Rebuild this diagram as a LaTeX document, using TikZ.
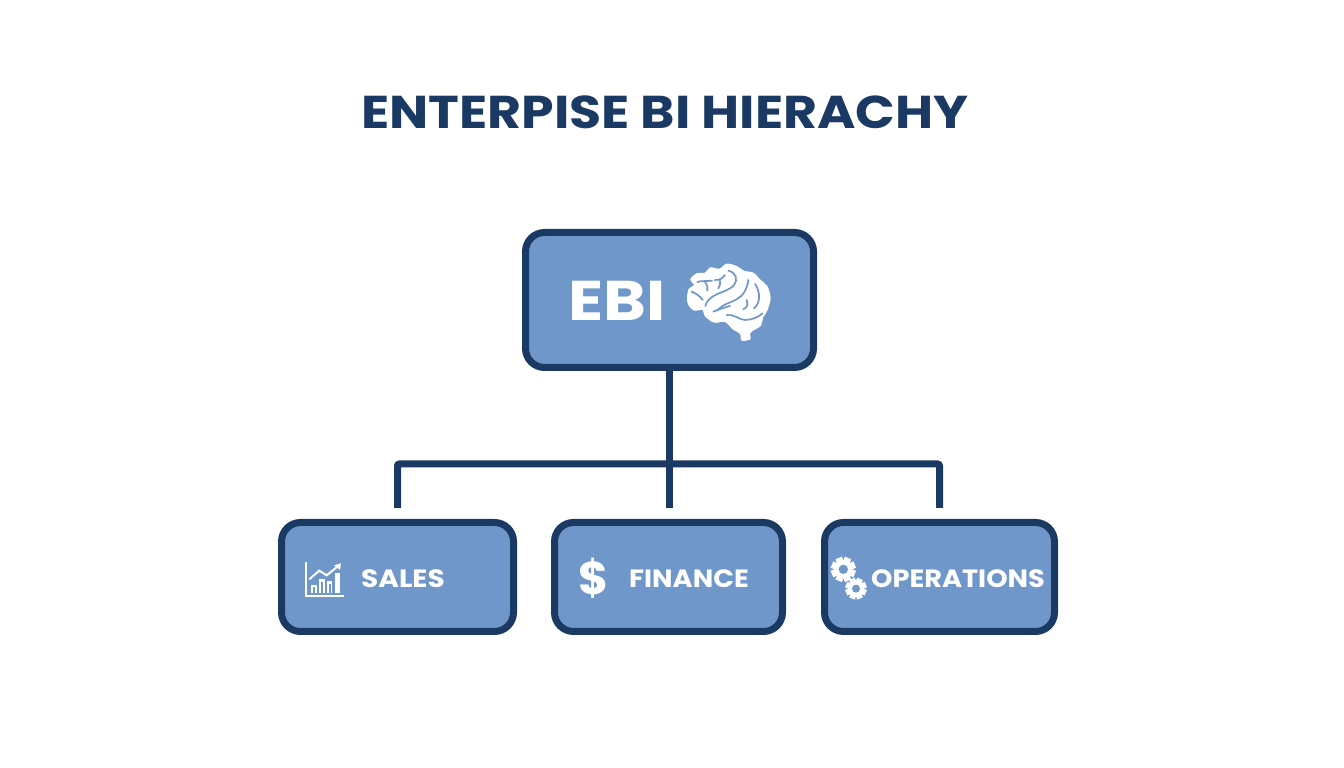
\documentclass[tikz,border=0pt]{standalone}
\usepackage{fontspec}
\setmainfont{Poppins}[BoldFont={Poppins Bold}]
\usetikzlibrary{calc}
\definecolor{navy}{HTML}{1B3A63}
\definecolor{boxfill}{HTML}{6F97CA}
\newcommand{\wideb}[2]{\fontsize{#1}{#1}\bfseries\addfontfeature{FakeStretch=#2}\selectfont}
\tikzset{
  x=1pt,y=1pt,
  box/.style={draw=navy,fill=boxfill,line width=7pt,rounded corners=19pt,inner sep=0pt},
  link/.style={draw=navy,line width=7pt,rounded corners=2pt},
  lbl/.style={text=white,inner sep=0pt,anchor=center},
  vein/.style={draw=boxfill,line width=1.7pt,line cap=round,line join=round},
  icon/.style={draw=white,line width=2pt,line join=miter},
}
\begin{document}
\begin{tikzpicture}
\useasboundingbox (0,0) rectangle (1344,768);
\fill[white] (0,0) rectangle (1344,768);
\node[text=navy,font=\wideb{46}{1.133},inner sep=0pt] (title) at (665,656) {ENTERPISE BI HIERACHY};
\node[box,minimum width=288pt,minimum height=135pt] (ebi) at (669.5,468) {};
\node[box,minimum width=232pt,minimum height=109pt] (sales) at (397.5,191) {};
\node[box,minimum width=228pt,minimum height=109pt] (finance) at (668.5,191) {};
\node[box,minimum width=230pt,minimum height=109pt] (ops) at (939.5,191) {};
\coordinate (busl) at ($(sales.north)+(0,11)$);
\coordinate (busm) at ($(finance.north)+(0,11)$);
\coordinate (busr) at ($(ops.north)+(0,11)$);
\coordinate (busltop) at ($(busl)+(0,44)$);
\coordinate (busrtop) at ($(busr)+(0,44)$);
\draw[link] (busl) -- (busltop) -- (busrtop) -- (busr);
\draw[link,rounded corners=0pt] (ebi.south) -- (ebi.south |- busm);
\node[lbl,font=\wideb{56}{1.16}] (ebit) at (617,467) {EBI};
\node[lbl,font=\wideb{25}{1.12}] (salest) at (403,189) {SALES};
\node[lbl,font=\wideb{25}{1.09}] (fint) at (689,189) {FINANCE};
\node[lbl,font=\wideb{25}{1.09}] (opst) at (958,189) {OPERATIONS};
\node[lbl,font=\wideb{46}{1.0}] (dollar) at (594,190) {\$};
% brain
\begin{scope}[shift={(510,548)},x=0.3333pt,y=-0.3333pt]
\fill[white] plot[smooth cycle,tension=0.55] coordinates {
 (531,232)(537,205)(552,196)(541,178)(560,160)(585,158)(600,142)(628,146)(650,131)(680,138)(702,152)(730,158)(750,178)(772,198)(782,235)(772,272)(760,292)(752,318)(726,334)(720,345)(722,358)(695,362)(690,342)(668,328)(645,306)(612,308)(584,288)(578,270)(552,272)(535,255)};
\draw[vein] (562,186)..controls (575,182) and (590,184)..(606,182);
\draw[vein] (585,186)..controls (592,195) and (594,202)..(592,212);
\draw[vein] (615,180)..controls (630,182) and (640,172)..(645,165);
\draw[vein] (630,182)..controls (632,190) and (630,198)..(625,205);
\draw[vein] (655,152)..controls (680,158) and (684,180)..(672,196)..controls (660,208) and (640,215)..(622,222)..controls (605,230) and (590,240)..(586,258);
\draw[vein] (715,180)..controls (712,205) and (700,228)..(680,238)..controls (665,248) and (640,250)..(622,272);
\draw[vein] (610,275)..controls (625,268) and (645,262)..(660,258);
\draw[vein] (735,192)..controls (752,215) and (752,250)..(732,265);
\draw[vein] (545,215)..controls (560,222) and (570,228)..(578,240);
\draw[vein] (650,285)..controls (672,282) and (690,300)..(705,300)..controls (725,300) and (745,292)..(758,280);
\draw[vein] (710,240)..controls (715,255) and (712,262)..(700,268);
\end{scope}
% chart
\begin{scope}[shift={(270,258)},x=0.3333pt,y=-0.3333pt]
\draw[icon] (108,157) -- (108,258) -- (221,258);
\fill[white] (123,250) rectangle (140,224);
\fill[white] (147,250) rectangle (164,208);
\fill[white] (172,250) rectangle (187,212);
\fill[white] (196,250) rectangle (210,190);
\fill[boxfill] (128,248) rectangle (135,232);
\fill[boxfill] (152,248) rectangle (159,216);
\fill[boxfill] (176,248) rectangle (183,222);
\draw[icon] (118,208) -- (148,182) -- (170,196) -- (206,167);
\fill[white] (213,160) -- (210,180) -- (192,166) -- cycle;
\end{scope}
% gears
\begin{scope}[shift={(815,258)},x=0.3333pt,y=-0.3333pt]
\foreach \cx/\cy/\ro/\ri/\rh in {85/178/37/27/14,123/236/32/23/12}{
  \foreach \a in {0,45,...,315}{
    \fill[white,rotate around={\a+22.5:(\cx,\cy)}] (\cx-0.28*\ro,\cy) rectangle (\cx+0.28*\ro,\cy-\ro);
  }
  \fill[white] (\cx,\cy) circle[radius=\ri];
  \fill[boxfill] (\cx,\cy) circle[radius=\rh];
}
\end{scope}
\end{tikzpicture}
\end{document}
